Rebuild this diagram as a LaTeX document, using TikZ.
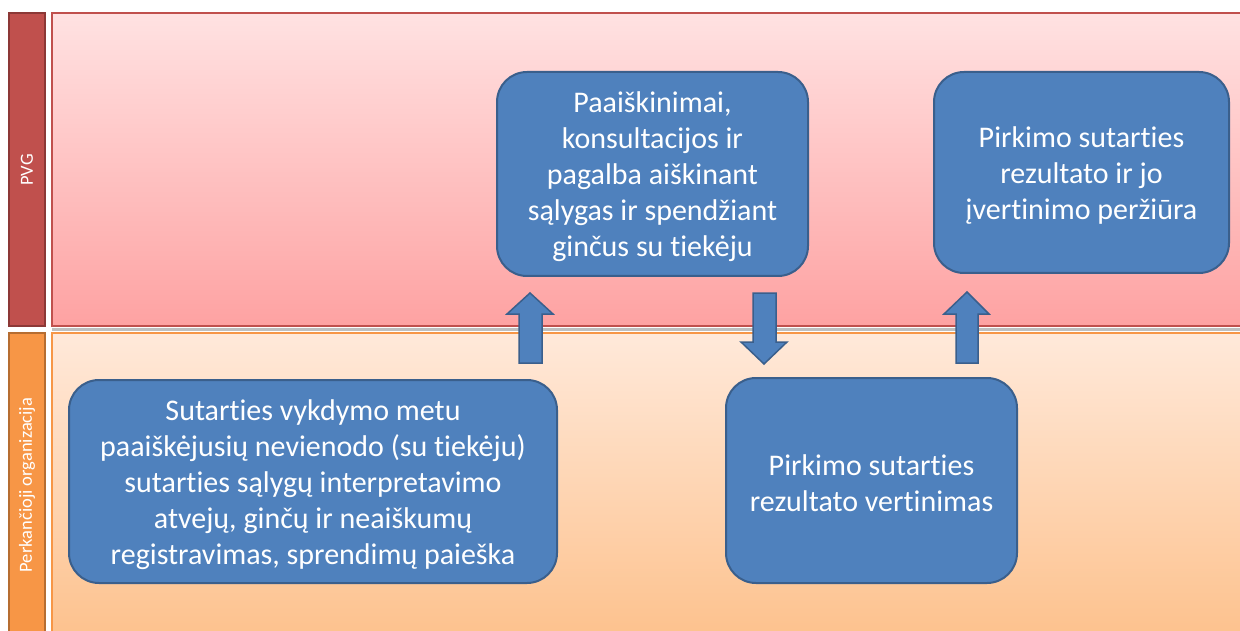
\documentclass[tikz,border=0pt]{standalone}
\usepackage{fontspec}
\setmainfont[Ligatures=NoCommon]{Carlito}
\definecolor{boxfill}{HTML}{4F81BD}
\definecolor{boxline}{HTML}{3A5F8C}
\definecolor{redline}{HTML}{C0504D}
\definecolor{redbar}{HTML}{C0504D}
\definecolor{redbarline}{HTML}{8C3836}
\definecolor{redtop}{HTML}{FFE2E2}
\definecolor{redbot}{HTML}{FEA2A2}
\definecolor{orline}{HTML}{F79646}
\definecolor{orbar}{HTML}{F79646}
\definecolor{orbarline}{HTML}{B66D31}
\definecolor{ortop}{HTML}{FFE9DA}
\definecolor{orbot}{HTML}{FDC08A}
\begin{document}
\begin{tikzpicture}[x=1pt,y=-1pt,
  procbox/.style={draw=boxline, line width=2pt, fill=boxfill, rounded corners=30pt, inner sep=0pt},
  proctext/.style={text=white, align=center, font=\fontsize{30}{36}\selectfont, inner sep=0pt, yshift=-3pt},
  lanebar/.style={line width=2pt},
  lanelabel/.style={rotate=90, text=white, font=\fontsize{18.5}{20}\selectfont},
  blockarrow/.style={draw=boxline, line width=1.5pt, fill=boxfill, line join=miter}]
\useasboundingbox (0,0) rectangle (1240,631);
\begin{scope}
\clip (0,0) rectangle (1240,631);
% lanes
\shade[top color=redtop, bottom color=redbot] (52,13) rectangle (1260,326);
\draw[redline, lanebar] (1260,13) -- (52,13) -- (52,326) -- (1260,326);
\fill[gray!50] (52,328) rectangle (1260,331);
\shade[top color=ortop, bottom color=orbot] (52,333) rectangle (1260,650);
\draw[orline, lanebar] (1260,333) -- (52,333) -- (52,650);
\node[draw=redbarline, lanebar, fill=redbar, minimum width=36pt, minimum height=313pt, inner sep=0pt] (pvgbar) at (27,169.5) {};
\node[lanelabel] (pvg) at (27,170) {PVG};
\node[draw=orbarline, lanebar, fill=orbar, minimum width=36pt, minimum height=320pt, inner sep=0pt] (orgbar) at (27,493) {};
\node[lanelabel] (org) at (27,485) {Perkančioji organizacija};
\end{scope}
% boxes
\node[procbox, minimum width=311pt, minimum height=204pt] (a) at (652.5,174) {};
\node[proctext] (atext) at (a.center)
  {Paaiškinimai,\\ konsultacijos ir\\ pagalba aiškinant\\ sąlygas ir spendžiant\\ ginčus su tiekėju};
\node[procbox, minimum width=295pt, minimum height=201pt] (b) at (1081.5,172.5) {};
\node[proctext] (btext) at (b.center)
  {Pirkimo sutarties\\ rezultato ir jo\\ įvertinimo peržiūra};
\node[procbox, minimum width=488pt, minimum height=203pt] (c) at (313,481.5) {};
\node[proctext] (ctext) at (c.center)
  {Sutarties vykdymo metu\\ paaiškėjusių nevienodo (su tiekėju)\\ sutarties sąlygų interpretavimo\\ atvejų, ginčų ir neaiškumų\\ registravimas, sprendimų paieška};
\node[procbox, minimum width=291pt, minimum height=205pt] (d) at (871.5,480.5) {};
\node[proctext] (dtext) at (d.center)
  {Pirkimo sutarties\\ rezultato vertinimas};
% block arrows
\draw[blockarrow] (519,363) -- (519,314) -- (507,314) -- (530,293) -- (553,314) -- (542,314) -- (542,363) -- cycle;
\draw[blockarrow] (753,293) -- (753,342) -- (741,342) -- (764,364) -- (787,342) -- (776,342) -- (776,293) -- cycle;
\draw[blockarrow] (956,363) -- (956,314) -- (944,314) -- (967,292) -- (989,314) -- (978,314) -- (978,363) -- cycle;
\end{tikzpicture}
\end{document}
